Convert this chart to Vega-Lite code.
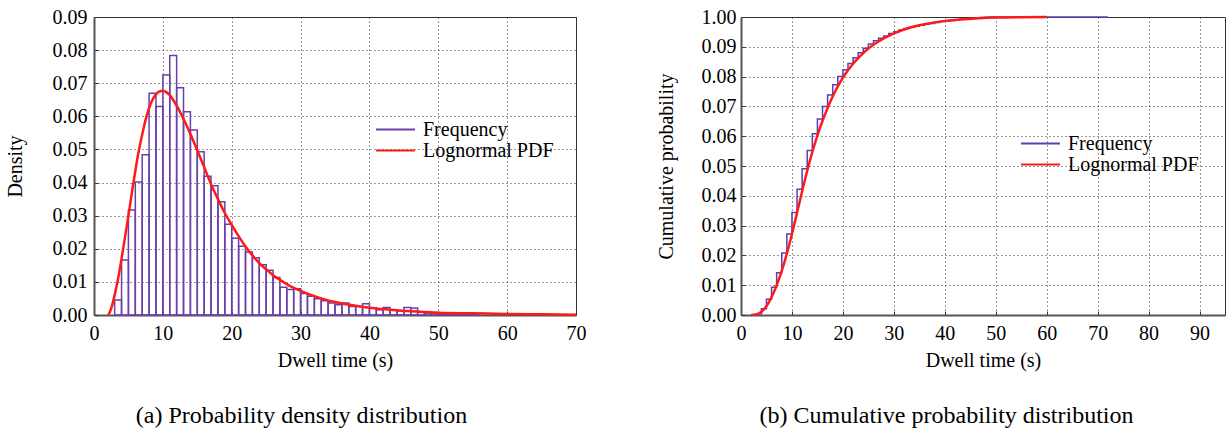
{
  "$schema": "https://vega.github.io/schema/vega-lite/v6.json",
  "background": "white",
  "padding": {"left": 4, "top": 6, "right": 0, "bottom": 0},
  "bounds": "flush",
  "spacing": 165,
  "config": {
    "font": "Liberation Serif",
    "view": {"stroke": "#333", "strokeWidth": 1},
    "axis": {
      "labelFont": "Liberation Serif", "titleFont": "Liberation Serif",
      "labelFontSize": 20, "titleFontSize": 20, "titleFontWeight": "normal",
      "labelColor": "#000", "titleColor": "#000",
      "grid": true, "gridColor": "#333", "gridDash": [1, 3], "gridWidth": 1,
      "domainColor": "#555", "domainWidth": 2,
      "ticks": true, "tickSize": -4, "tickColor": "#333",
      "labelFlush": false, "labelOverlap": false
    },
    "legend": {
      "orient": "none", "title": null, "symbolType": "M-1,0H3.1", "symbolSize": 361,
      "symbolStrokeWidth": 2, "labelFont": "Liberation Serif", "labelFontSize": 20,
      "labelColor": "#000", "labelOffset": 27, "rowPadding": 0, "padding": 0
    },
    "title": {"font": "Liberation Serif", "fontSize": 24, "fontWeight": "normal", "color": "#000"}
  },
  "resolve": {"scale": {"stroke": "independent"}, "legend": {"stroke": "independent"}},
  "hconcat": [
    {
      "width": 482,
      "height": 298,
      "title": {"text": "(a) Probability density distribution", "orient": "bottom", "anchor": "middle", "frame": "bounds", "offset": 34, "dx": 6},
      "layer": [
        {
          "data": {"values": [
            {"start": 3, "end": 4, "density": 0.0045, "series": "Frequency"},
            {"start": 4, "end": 5, "density": 0.0166, "series": "Frequency"},
            {"start": 5, "end": 6, "density": 0.0317, "series": "Frequency"},
            {"start": 6, "end": 7, "density": 0.0402, "series": "Frequency"},
            {"start": 7, "end": 8, "density": 0.0484, "series": "Frequency"},
            {"start": 8, "end": 9, "density": 0.067, "series": "Frequency"},
            {"start": 9, "end": 10, "density": 0.063, "series": "Frequency"},
            {"start": 10, "end": 11, "density": 0.0725, "series": "Frequency"},
            {"start": 11, "end": 12, "density": 0.0784, "series": "Frequency"},
            {"start": 12, "end": 13, "density": 0.0686, "series": "Frequency"},
            {"start": 13, "end": 14, "density": 0.0614, "series": "Frequency"},
            {"start": 14, "end": 15, "density": 0.0559, "series": "Frequency"},
            {"start": 15, "end": 16, "density": 0.0493, "series": "Frequency"},
            {"start": 16, "end": 17, "density": 0.0419, "series": "Frequency"},
            {"start": 17, "end": 18, "density": 0.039, "series": "Frequency"},
            {"start": 18, "end": 19, "density": 0.0342, "series": "Frequency"},
            {"start": 19, "end": 20, "density": 0.0274, "series": "Frequency"},
            {"start": 20, "end": 21, "density": 0.0232, "series": "Frequency"},
            {"start": 21, "end": 22, "density": 0.0208, "series": "Frequency"},
            {"start": 22, "end": 23, "density": 0.019, "series": "Frequency"},
            {"start": 23, "end": 24, "density": 0.0173, "series": "Frequency"},
            {"start": 24, "end": 25, "density": 0.0152, "series": "Frequency"},
            {"start": 25, "end": 26, "density": 0.0135, "series": "Frequency"},
            {"start": 26, "end": 27, "density": 0.0113, "series": "Frequency"},
            {"start": 27, "end": 28, "density": 0.0084, "series": "Frequency"},
            {"start": 28, "end": 29, "density": 0.0077, "series": "Frequency"},
            {"start": 29, "end": 30, "density": 0.0079, "series": "Frequency"},
            {"start": 30, "end": 31, "density": 0.0065, "series": "Frequency"},
            {"start": 31, "end": 32, "density": 0.0057, "series": "Frequency"},
            {"start": 32, "end": 33, "density": 0.0049, "series": "Frequency"},
            {"start": 33, "end": 34, "density": 0.0043, "series": "Frequency"},
            {"start": 34, "end": 35, "density": 0.0036, "series": "Frequency"},
            {"start": 35, "end": 36, "density": 0.0031, "series": "Frequency"},
            {"start": 36, "end": 37, "density": 0.0036, "series": "Frequency"},
            {"start": 37, "end": 38, "density": 0.0026, "series": "Frequency"},
            {"start": 38, "end": 39, "density": 0.0026, "series": "Frequency"},
            {"start": 39, "end": 40, "density": 0.0034, "series": "Frequency"},
            {"start": 40, "end": 41, "density": 0.0021, "series": "Frequency"},
            {"start": 41, "end": 42, "density": 0.0016, "series": "Frequency"},
            {"start": 42, "end": 43, "density": 0.0023, "series": "Frequency"},
            {"start": 43, "end": 44, "density": 0.0016, "series": "Frequency"},
            {"start": 44, "end": 45, "density": 0.0013, "series": "Frequency"},
            {"start": 45, "end": 46, "density": 0.0023, "series": "Frequency"},
            {"start": 46, "end": 47, "density": 0.0021, "series": "Frequency"},
            {"start": 47, "end": 48, "density": 0.0008, "series": "Frequency"},
            {"start": 48, "end": 49, "density": 0.0006, "series": "Frequency"},
            {"start": 49, "end": 50, "density": 0.0005, "series": "Frequency"},
            {"start": 50, "end": 51, "density": 0.0004, "series": "Frequency"},
            {"start": 51, "end": 52, "density": 0.0003, "series": "Frequency"},
            {"start": 52, "end": 53, "density": 0.0003, "series": "Frequency"},
            {"start": 53, "end": 54, "density": 0.0002, "series": "Frequency"},
            {"start": 54, "end": 55, "density": 0.0002, "series": "Frequency"},
            {"start": 55, "end": 56, "density": 0.0001, "series": "Frequency"}
          ]},
          "mark": {"type": "bar", "fill": "transparent", "strokeWidth": 1.5},
          "encoding": {
            "x": {"field": "start", "type": "quantitative", "scale": {"domain": [0, 70], "nice": false},
                  "axis": {"values": [0, 10, 20, 30, 40, 50, 60, 70], "tickCount": 8, "format": "d", "title": "Dwell time (s)", "labelPadding": 12, "titlePadding": 7}},
            "x2": {"field": "end"},
            "y": {"field": "density", "type": "quantitative", "scale": {"domain": [0, 0.09], "nice": false},
                  "axis": {"values": [0, 0.01, 0.02, 0.03, 0.04, 0.05, 0.06, 0.07, 0.08, 0.09], "tickCount": 10, "format": ".2f", "title": "Density", "labelPadding": 11, "titlePadding": 27}},
            "y2": {"datum": 0},
            "stroke": {"field": "series", "type": "nominal",
                       "scale": {"domain": ["Frequency", "Lognormal PDF"], "range": ["#6b3fa8", "#ff1a1a"]},
                       "legend": {"legendX": 281, "legendY": 102}}
          }
        },
        {
          "data": {"values": [
            {"x": 2.1, "y": 0, "series": "Lognormal PDF"},
            {"x": 2.5, "y": 0.002, "series": "Lognormal PDF"},
            {"x": 3, "y": 0.006, "series": "Lognormal PDF"},
            {"x": 3.5, "y": 0.011, "series": "Lognormal PDF"},
            {"x": 4, "y": 0.017, "series": "Lognormal PDF"},
            {"x": 4.5, "y": 0.0235, "series": "Lognormal PDF"},
            {"x": 5, "y": 0.03, "series": "Lognormal PDF"},
            {"x": 5.5, "y": 0.037, "series": "Lognormal PDF"},
            {"x": 6, "y": 0.0435, "series": "Lognormal PDF"},
            {"x": 6.5, "y": 0.0495, "series": "Lognormal PDF"},
            {"x": 7, "y": 0.0545, "series": "Lognormal PDF"},
            {"x": 7.5, "y": 0.059, "series": "Lognormal PDF"},
            {"x": 8, "y": 0.0625, "series": "Lognormal PDF"},
            {"x": 8.5, "y": 0.065, "series": "Lognormal PDF"},
            {"x": 9, "y": 0.0667, "series": "Lognormal PDF"},
            {"x": 9.5, "y": 0.0675, "series": "Lognormal PDF"},
            {"x": 10, "y": 0.0677, "series": "Lognormal PDF"},
            {"x": 10.5, "y": 0.0673, "series": "Lognormal PDF"},
            {"x": 11, "y": 0.0664, "series": "Lognormal PDF"},
            {"x": 12, "y": 0.0632, "series": "Lognormal PDF"},
            {"x": 13, "y": 0.0592, "series": "Lognormal PDF"},
            {"x": 14, "y": 0.0547, "series": "Lognormal PDF"},
            {"x": 15, "y": 0.0497, "series": "Lognormal PDF"},
            {"x": 16, "y": 0.0447, "series": "Lognormal PDF"},
            {"x": 17, "y": 0.0395, "series": "Lognormal PDF"},
            {"x": 18, "y": 0.035, "series": "Lognormal PDF"},
            {"x": 19, "y": 0.0308, "series": "Lognormal PDF"},
            {"x": 20, "y": 0.0272, "series": "Lognormal PDF"},
            {"x": 21, "y": 0.0238, "series": "Lognormal PDF"},
            {"x": 22, "y": 0.0207, "series": "Lognormal PDF"},
            {"x": 23, "y": 0.018, "series": "Lognormal PDF"},
            {"x": 24, "y": 0.0157, "series": "Lognormal PDF"},
            {"x": 25, "y": 0.0138, "series": "Lognormal PDF"},
            {"x": 26, "y": 0.012, "series": "Lognormal PDF"},
            {"x": 27, "y": 0.0106, "series": "Lognormal PDF"},
            {"x": 28, "y": 0.0093, "series": "Lognormal PDF"},
            {"x": 29, "y": 0.0082, "series": "Lognormal PDF"},
            {"x": 30, "y": 0.0073, "series": "Lognormal PDF"},
            {"x": 32, "y": 0.0057, "series": "Lognormal PDF"},
            {"x": 34, "y": 0.0044, "series": "Lognormal PDF"},
            {"x": 36, "y": 0.0035, "series": "Lognormal PDF"},
            {"x": 38, "y": 0.0028, "series": "Lognormal PDF"},
            {"x": 40, "y": 0.0022, "series": "Lognormal PDF"},
            {"x": 43, "y": 0.0016, "series": "Lognormal PDF"},
            {"x": 46, "y": 0.0011, "series": "Lognormal PDF"},
            {"x": 50, "y": 0.0007, "series": "Lognormal PDF"},
            {"x": 55, "y": 0.0005, "series": "Lognormal PDF"},
            {"x": 60, "y": 0.0003, "series": "Lognormal PDF"},
            {"x": 65, "y": 0.0002, "series": "Lognormal PDF"},
            {"x": 70, "y": 0.0001, "series": "Lognormal PDF"}
          ]},
          "mark": {"type": "line", "strokeWidth": 2.5, "interpolate": "monotone"},
          "encoding": {
            "x": {"field": "x", "type": "quantitative"},
            "y": {"field": "y", "type": "quantitative"},
            "stroke": {"field": "series", "type": "nominal"}
          }
        }
      ]
    },
    {
      "width": 484,
      "height": 298,
      "title": {"text": "(b) Cumulative probability distribution", "orient": "bottom", "anchor": "middle", "frame": "bounds", "offset": 34, "dx": 6},
      "layer": [
        {
          "data": {"values": [
            {"x": 2, "p": 0, "series": "Frequency"},
            {"x": 3, "p": 0.0045, "series": "Frequency"},
            {"x": 4, "p": 0.0211, "series": "Frequency"},
            {"x": 5, "p": 0.0528, "series": "Frequency"},
            {"x": 6, "p": 0.093, "series": "Frequency"},
            {"x": 7, "p": 0.1414, "series": "Frequency"},
            {"x": 8, "p": 0.2084, "series": "Frequency"},
            {"x": 9, "p": 0.2714, "series": "Frequency"},
            {"x": 10, "p": 0.3439, "series": "Frequency"},
            {"x": 11, "p": 0.4223, "series": "Frequency"},
            {"x": 12, "p": 0.4909, "series": "Frequency"},
            {"x": 13, "p": 0.5523, "series": "Frequency"},
            {"x": 14, "p": 0.6082, "series": "Frequency"},
            {"x": 15, "p": 0.6575, "series": "Frequency"},
            {"x": 16, "p": 0.6994, "series": "Frequency"},
            {"x": 17, "p": 0.7384, "series": "Frequency"},
            {"x": 18, "p": 0.7726, "series": "Frequency"},
            {"x": 19, "p": 0.8, "series": "Frequency"},
            {"x": 20, "p": 0.8232, "series": "Frequency"},
            {"x": 21, "p": 0.844, "series": "Frequency"},
            {"x": 22, "p": 0.863, "series": "Frequency"},
            {"x": 23, "p": 0.8803, "series": "Frequency"},
            {"x": 24, "p": 0.8955, "series": "Frequency"},
            {"x": 25, "p": 0.909, "series": "Frequency"},
            {"x": 26, "p": 0.9203, "series": "Frequency"},
            {"x": 27, "p": 0.9287, "series": "Frequency"},
            {"x": 28, "p": 0.9364, "series": "Frequency"},
            {"x": 29, "p": 0.9443, "series": "Frequency"},
            {"x": 30, "p": 0.9508, "series": "Frequency"},
            {"x": 31, "p": 0.9565, "series": "Frequency"},
            {"x": 32, "p": 0.9614, "series": "Frequency"},
            {"x": 33, "p": 0.9657, "series": "Frequency"},
            {"x": 34, "p": 0.9693, "series": "Frequency"},
            {"x": 35, "p": 0.9724, "series": "Frequency"},
            {"x": 36, "p": 0.976, "series": "Frequency"},
            {"x": 37, "p": 0.9786, "series": "Frequency"},
            {"x": 38, "p": 0.9812, "series": "Frequency"},
            {"x": 39, "p": 0.9846, "series": "Frequency"},
            {"x": 40, "p": 0.9867, "series": "Frequency"},
            {"x": 41, "p": 0.9883, "series": "Frequency"},
            {"x": 42, "p": 0.9906, "series": "Frequency"},
            {"x": 43, "p": 0.9922, "series": "Frequency"},
            {"x": 44, "p": 0.9935, "series": "Frequency"},
            {"x": 45, "p": 0.9958, "series": "Frequency"},
            {"x": 46, "p": 0.9979, "series": "Frequency"},
            {"x": 47, "p": 0.9987, "series": "Frequency"},
            {"x": 48, "p": 0.9993, "series": "Frequency"},
            {"x": 49, "p": 0.9996, "series": "Frequency"},
            {"x": 50, "p": 0.9998, "series": "Frequency"},
            {"x": 52, "p": 1.0, "series": "Frequency"},
            {"x": 72, "p": 1.0, "series": "Frequency"}
          ]},
          "mark": {"type": "line", "strokeWidth": 1.5, "interpolate": "step-after"},
          "encoding": {
            "x": {"field": "x", "type": "quantitative", "scale": {"domain": [0, 95], "nice": false},
                  "axis": {"values": [0, 10, 20, 30, 40, 50, 60, 70, 80, 90], "tickCount": 10, "format": "d", "title": "Dwell time (s)", "labelPadding": 12, "titlePadding": 7}},
            "y": {"field": "p", "type": "quantitative", "scale": {"domain": [0, 1], "nice": false},
                  "axis": {"values": [0, 0.1, 0.2, 0.3, 0.4, 0.5, 0.6, 0.7, 0.8, 0.9, 1], "tickCount": 11, "labelExpr": "datum.value >= 0.999 ? '1.00' : '0.0' + format(datum.value * 10, '.0f')", "title": "Cumulative probability", "labelPadding": 9, "titlePadding": 25}},
            "stroke": {"field": "series", "type": "nominal",
                       "scale": {"domain": ["Frequency", "Lognormal PDF"], "range": ["#5a3fb0", "#ff1a1a"]},
                       "legend": {"legendX": 279, "legendY": 116}}
          }
        },
        {
          "data": {"values": [
            {"x": 2, "p": 0, "series": "Lognormal PDF"},
            {"x": 3, "p": 0.002, "series": "Lognormal PDF"},
            {"x": 4, "p": 0.01, "series": "Lognormal PDF"},
            {"x": 5, "p": 0.03, "series": "Lognormal PDF"},
            {"x": 6, "p": 0.06, "series": "Lognormal PDF"},
            {"x": 7, "p": 0.1, "series": "Lognormal PDF"},
            {"x": 8, "p": 0.148, "series": "Lognormal PDF"},
            {"x": 9, "p": 0.206, "series": "Lognormal PDF"},
            {"x": 10, "p": 0.272, "series": "Lognormal PDF"},
            {"x": 11, "p": 0.343, "series": "Lognormal PDF"},
            {"x": 12, "p": 0.415, "series": "Lognormal PDF"},
            {"x": 13, "p": 0.484, "series": "Lognormal PDF"},
            {"x": 14, "p": 0.547, "series": "Lognormal PDF"},
            {"x": 15, "p": 0.603, "series": "Lognormal PDF"},
            {"x": 16, "p": 0.652, "series": "Lognormal PDF"},
            {"x": 17, "p": 0.695, "series": "Lognormal PDF"},
            {"x": 18, "p": 0.733, "series": "Lognormal PDF"},
            {"x": 19, "p": 0.767, "series": "Lognormal PDF"},
            {"x": 20, "p": 0.796, "series": "Lognormal PDF"},
            {"x": 21, "p": 0.821, "series": "Lognormal PDF"},
            {"x": 22, "p": 0.843, "series": "Lognormal PDF"},
            {"x": 23, "p": 0.862, "series": "Lognormal PDF"},
            {"x": 24, "p": 0.879, "series": "Lognormal PDF"},
            {"x": 25, "p": 0.894, "series": "Lognormal PDF"},
            {"x": 26, "p": 0.907, "series": "Lognormal PDF"},
            {"x": 27, "p": 0.918, "series": "Lognormal PDF"},
            {"x": 28, "p": 0.928, "series": "Lognormal PDF"},
            {"x": 29, "p": 0.937, "series": "Lognormal PDF"},
            {"x": 30, "p": 0.945, "series": "Lognormal PDF"},
            {"x": 32, "p": 0.958, "series": "Lognormal PDF"},
            {"x": 34, "p": 0.968, "series": "Lognormal PDF"},
            {"x": 36, "p": 0.976, "series": "Lognormal PDF"},
            {"x": 38, "p": 0.982, "series": "Lognormal PDF"},
            {"x": 40, "p": 0.987, "series": "Lognormal PDF"},
            {"x": 43, "p": 0.992, "series": "Lognormal PDF"},
            {"x": 46, "p": 0.995, "series": "Lognormal PDF"},
            {"x": 50, "p": 0.998, "series": "Lognormal PDF"},
            {"x": 55, "p": 0.9995, "series": "Lognormal PDF"},
            {"x": 60, "p": 1.0, "series": "Lognormal PDF"}
          ]},
          "mark": {"type": "line", "strokeWidth": 2.5, "interpolate": "monotone"},
          "encoding": {
            "x": {"field": "x", "type": "quantitative"},
            "y": {"field": "p", "type": "quantitative"},
            "stroke": {"field": "series", "type": "nominal"}
          }
        }
      ]
    }
  ]
}
